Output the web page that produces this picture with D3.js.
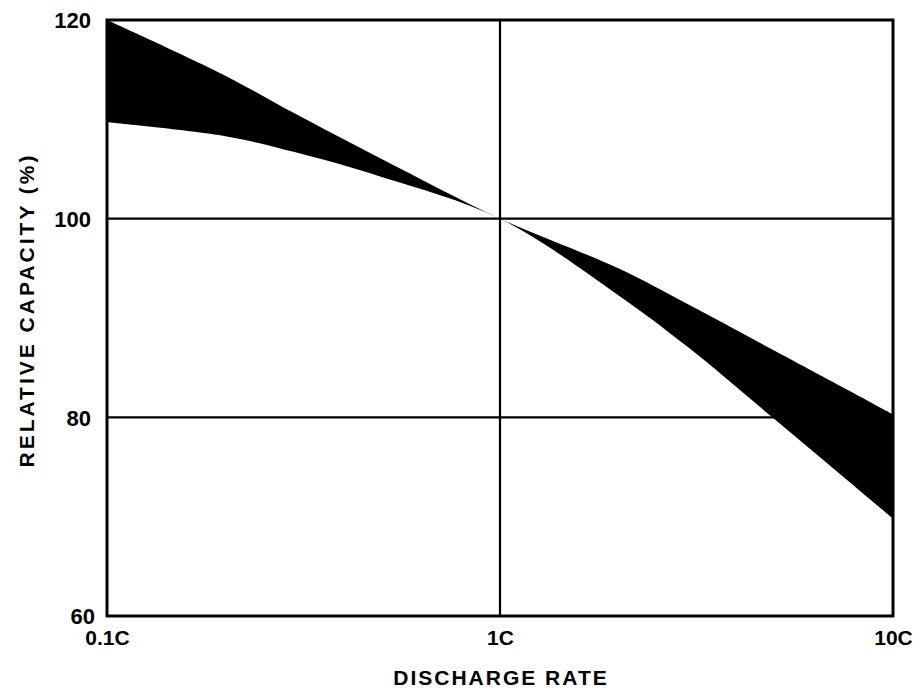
<!DOCTYPE html>
<html>
<head>
<meta charset="utf-8">
<script src="https://cdn.jsdelivr.net/npm/d3@7"></script>
<style>
  html, body { margin: 0; padding: 0; background: #fff; }
  svg text { font-family: "Liberation Sans", Arial, sans-serif; font-weight: bold; fill: #000; }
</style>
</head>
<body>
<svg id="chart" width="920" height="690"></svg>
<script>
// Discharge rate (multiples of C) and the relative capacity band limits (%)
const rates      = [0.1, 0.2, 0.3, 0.5, 1, 2, 3, 5, 10];
const upperBound = [120, 114.4, 110.6, 106.0, 100, 95.0, 91.4, 86.7, 80.3];
const lowerBound = [109.7, 108.3, 106.7, 104.2, 100, 92.3, 87.1, 79.8, 69.8];

const xTicks      = [0.1, 1, 10];
const xTickLabels = ["0.1C", "1C", "10C"];
const yTicks      = [60, 80, 100, 120];

const band = rates.map((r, i) => ({ r, hi: upperBound[i], lo: lowerBound[i] }));

const W = 920, H = 690;
const margin = { top: 20, right: 27, bottom: 74, left: 107 };

const svg = d3.select("#chart");

const x = d3.scaleLog().domain([0.1, 10]).range([margin.left, W - margin.right]);
const y = d3.scaleLinear().domain([60, 120]).range([H - margin.bottom, margin.top]);

// capacity band
const area = d3.area()
  .x(d => x(d.r))
  .y0(d => y(d.lo))
  .y1(d => y(d.hi))
  .curve(d3.curveCatmullRom.alpha(0.5));

svg.append("path")
  .datum(band)
  .attr("d", area)
  .attr("fill", "#000");

// grid lines
const grid = svg.append("g").attr("stroke", "#000").attr("stroke-width", 2.2);
grid.selectAll("line.h")
  .data(yTicks.filter(v => v > 60 && v < 120))
  .join("line")
  .attr("x1", x(0.1)).attr("x2", x(10))
  .attr("y1", d => y(d)).attr("y2", d => y(d));
grid.selectAll("line.v")
  .data(xTicks.filter(v => v > 0.1 && v < 10))
  .join("line")
  .attr("x1", d => x(d)).attr("x2", d => x(d))
  .attr("y1", y(60)).attr("y2", y(120));

// frame
svg.append("rect")
  .attr("x", x(0.1)).attr("y", y(120))
  .attr("width", x(10) - x(0.1)).attr("height", y(60) - y(120))
  .attr("fill", "none").attr("stroke", "#000").attr("stroke-width", 3);

// y axis tick labels
const yAxis = d3.axisLeft(y).tickValues(yTicks).tickSize(0).tickPadding(16);
const gy = svg.append("g").attr("transform", `translate(${x(0.1)},0)`).call(yAxis);
gy.select(".domain").remove();
gy.selectAll("text")
  .style("font-size", "22px")
  .attr("dy", "0.36em")
  .attr("dx", d => d === 60 ? "4" : "0");

// x axis tick labels
const xAxis = d3.axisBottom(x).tickValues(xTicks).tickFormat((d, i) => xTickLabels[i]).tickSize(0).tickPadding(14);
const gx = svg.append("g").attr("transform", `translate(0,${y(60)})`).call(xAxis);
gx.select(".domain").remove();
gx.selectAll("text").style("font-size", "21px");

// axis titles
svg.append("text")
  .attr("x", x(1) + 1).attr("y", 685)
  .attr("text-anchor", "middle")
  .style("font-size", "21px")
  .style("letter-spacing", "2px")
  .text("DISCHARGE RATE");

svg.append("text")
  .attr("transform", `translate(34,${(y(60) + y(120)) / 2 - 8}) rotate(-90)`)
  .attr("text-anchor", "middle")
  .style("font-size", "21px")
  .style("letter-spacing", "3px")
  .text("RELATIVE CAPACITY (%)");
</script>
</body>
</html>
